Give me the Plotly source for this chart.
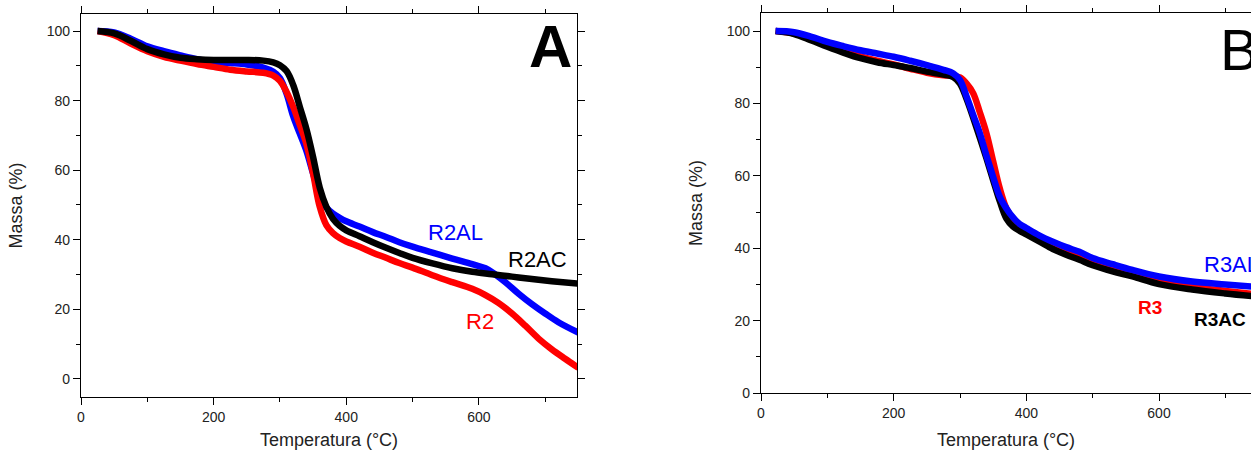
import plotly.graph_objects as go

# ---------------- Panel A data ----------------
r2ac_x = [25, 50, 75, 100, 125, 150, 175, 200, 225, 250, 275, 290, 300, 310, 320, 330, 340, 350, 360, 370, 380, 390, 400, 420, 440, 460, 480, 500, 530, 560, 590, 620, 650, 680, 710, 750]
r2ac_y = [100, 99.3, 97.2, 94.8, 93.3, 92.3, 91.9, 91.7, 91.7, 91.7, 91.5, 91.0, 90.2, 88.5, 84.5, 78.2, 71.8, 63.8, 55, 49.5, 46, 44, 42.7, 41, 39.3, 37.7, 36.2, 34.8, 33.2, 31.8, 30.8, 30.1, 29.4, 28.7, 28.1, 27.4]

r2al_x = [25, 50, 75, 100, 125, 150, 175, 200, 225, 250, 275, 290, 300, 310, 320, 330, 340, 350, 360, 370, 380, 390, 400, 420, 440, 460, 480, 500, 530, 560, 590, 610, 625, 640, 660, 680, 700, 720, 750]
r2al_y = [100, 99.6, 97.8, 95.6, 94.2, 93, 91.9, 91.1, 90.8, 90.4, 89.5, 88.3, 86.5, 82, 75.5, 70.5, 65.5, 59, 53, 49.3, 47.5, 46.3, 45.3, 43.8, 42.2, 40.8, 39.3, 38, 36.3, 34.6, 33, 31.8, 30, 27.8, 24.5, 21.5, 18.8, 16.3, 13.3]

r2_x = [25, 50, 75, 100, 125, 150, 175, 200, 225, 250, 275, 290, 300, 310, 320, 330, 340, 350, 360, 370, 380, 390, 400, 420, 440, 460, 480, 500, 530, 560, 590, 610, 630, 650, 670, 690, 710, 730, 750]
r2_y = [100, 98.8, 96.4, 94.2, 92.6, 91.5, 90.5, 89.7, 88.9, 88.4, 88, 87.2, 85.7, 82.5, 78.2, 73, 67.5, 59, 49.5, 44.2, 41.9, 40.5, 39.5, 38, 36.3, 34.8, 33.3, 32, 29.8, 27.8, 25.9, 24.1, 21.8, 18.8, 15.3, 11.6, 8.5, 5.8, 3.2]

# ---------------- Panel B data ----------------
r3ac_x = [22, 50, 75, 100, 125, 150, 175, 200, 225, 250, 275, 290, 300, 310, 320, 330, 340, 350, 360, 370, 380, 390, 400, 420, 440, 460, 480, 500, 530, 560, 600, 650, 700, 750]
r3ac_y = [100, 99.2, 97.5, 95.7, 94, 92.5, 91.4, 90.6, 89.8, 88.8, 88, 87.3, 85.5, 81.2, 76, 70.5, 64.8, 58.8, 53, 48.2, 46, 44.8, 43.8, 41.8, 39.8, 38.2, 36.8, 35.3, 33.6, 32.2, 30.1, 28.6, 27.5, 26.6]

r3al_x = [22, 50, 75, 100, 125, 150, 175, 200, 225, 250, 275, 290, 300, 310, 320, 330, 340, 350, 360, 370, 380, 390, 400, 420, 440, 460, 480, 500, 530, 560, 600, 650, 700, 750]
r3al_y = [100, 99.7, 98.5, 97, 95.8, 94.7, 93.8, 92.9, 91.8, 90.6, 89.3, 88.3, 86.5, 81.9, 76.8, 71.7, 65.5, 59.7, 54.2, 51, 48.5, 46.7, 45.6, 43.5, 41.8, 40.3, 39, 37.3, 35.6, 34, 32.2, 30.8, 30, 29.3]

r3_x = [22, 50, 75, 100, 125, 150, 175, 200, 225, 250, 275, 290, 300, 310, 320, 330, 340, 350, 360, 370, 380, 390, 400, 420, 440, 460, 480, 500, 530, 560, 600, 650, 700, 750]
r3_y = [100, 99.3, 97.9, 96, 94.4, 93, 91.8, 90.8, 89.6, 88.5, 87.8, 87.6, 87.2, 85.5, 82.8, 77.5, 71.7, 64, 56.5, 51, 48, 46.3, 45, 42.6, 40.8, 39.2, 37.7, 36, 34.3, 32.8, 30.8, 29.3, 28.2, 27.2]

x_tick_vals = [0, 200, 400, 600]
y_tick_vals_a = [0, 20, 40, 60, 80, 100]
y_tick_vals_b = [0, 20, 40, 60, 80, 100]

FONT = "Arial, Liberation Sans, sans-serif"
BLUE = "#0000FF"
RED = "#FF0000"
BLACK = "#000000"
LW = 6.5

fig = go.Figure()

def add(x, y, color, xa, ya):
    fig.add_trace(go.Scatter(x=x, y=y, mode="lines", xaxis=xa, yaxis=ya,
                             line=dict(color=color, width=LW, shape="spline", smoothing=1.0),
                             showlegend=False, hoverinfo="skip"))

# Panel A order: blue, red, black
add(r2al_x, r2al_y, BLUE, "x", "y")
add(r2_x, r2_y, RED, "x", "y")
add(r2ac_x, r2ac_y, BLACK, "x", "y")
# Panel B order: red, black, blue
add(r3_x, r3_y, RED, "x2", "y2")
add(r3ac_x, r3ac_y, BLACK, "x2", "y2")
add(r3al_x, r3al_y, BLUE, "x2", "y2")

W, H = 1251, 450

axis_common = dict(
    showline=True, linecolor="black", linewidth=1.3,
    ticks="outside", ticklen=7, tickwidth=1.2, tickcolor="black",
    showgrid=False, zeroline=False, automargin=False,
    tickfont=dict(family=FONT, size=14, color="#222"),
    title_font=dict(family=FONT, size=18, color="#222"),
)

fig.update_layout(
    width=W, height=H,
    margin=dict(l=0, r=0, t=0, b=0, autoexpand=False),
    paper_bgcolor="white", plot_bgcolor="white",
    font=dict(family=FONT, color="#222"),
    xaxis=dict(domain=[81 / W, 577 / W], range=[0, 748], tickvals=x_tick_vals,
               mirror="ticks", anchor="y",
               minor=dict(dtick=100, tick0=0, ticklen=4, ticks="outside", tickcolor="black", showgrid=False),
               title=dict(text="Temperatura (°C)", standoff=14),
               **axis_common),
    yaxis=dict(domain=[(H - 397) / H, (H - 14) / H], range=[-5.2, 104.9], tickvals=y_tick_vals_a,
               mirror="ticks", anchor="x",
               minor=dict(dtick=10, tick0=0, ticklen=4, ticks="outside", tickcolor="black", showgrid=False),
               title=dict(text="Massa (%)", standoff=19),
               **axis_common),
    xaxis2=dict(domain=[761 / W, 1.0], range=[0, 738.7], tickvals=x_tick_vals,
                mirror="ticks", anchor="y2",
                minor=dict(dtick=100, tick0=0, ticklen=4, ticks="outside", tickcolor="black", showgrid=False),
                title=dict(text="Temperatura (°C)", standoff=14),
                **axis_common),
    yaxis2=dict(domain=[(H - 393) / H, (H - 13) / H], range=[0, 105], tickvals=y_tick_vals_b,
                mirror=False, anchor="x2",
                minor=dict(dtick=10, tick0=0, ticklen=4, ticks="outside", tickcolor="black", showgrid=False),
                title=dict(text="Massa (%)", standoff=19),
                **axis_common),
)

def label(text, x, y, color, size, xref, yref, bold=False):
    fig.add_annotation(text=f"<b>{text}</b>" if bold else text, x=x, y=y, xref=xref, yref=yref,
                       showarrow=False, font=dict(family=FONT, size=size, color=color),
                       xanchor="center", yanchor="middle")

label("A", 708, 95.5, BLACK, 60, "x", "y", bold=True)
label("R2AL", 565, 42, BLUE, 22, "x", "y")
label("R2AC", 689, 34.2, BLACK, 22, "x", "y")
label("R2", 601, 16.4, RED, 22, "x", "y")

label("B", 722, 95, BLACK, 58, "x2", "y2")
label("R3AL", 709, 35.4, BLUE, 22, "x2", "y2")
label("R3", 587, 23.5, RED, 19, "x2", "y2", bold=True)
label("R3AC", 692, 20.4, BLACK, 19, "x2", "y2", bold=True)

fig.write_html("out.html",
               config={"displayModeBar": False},
               post_script="document.body.style.margin='0px';document.body.style.overflow='hidden';")
